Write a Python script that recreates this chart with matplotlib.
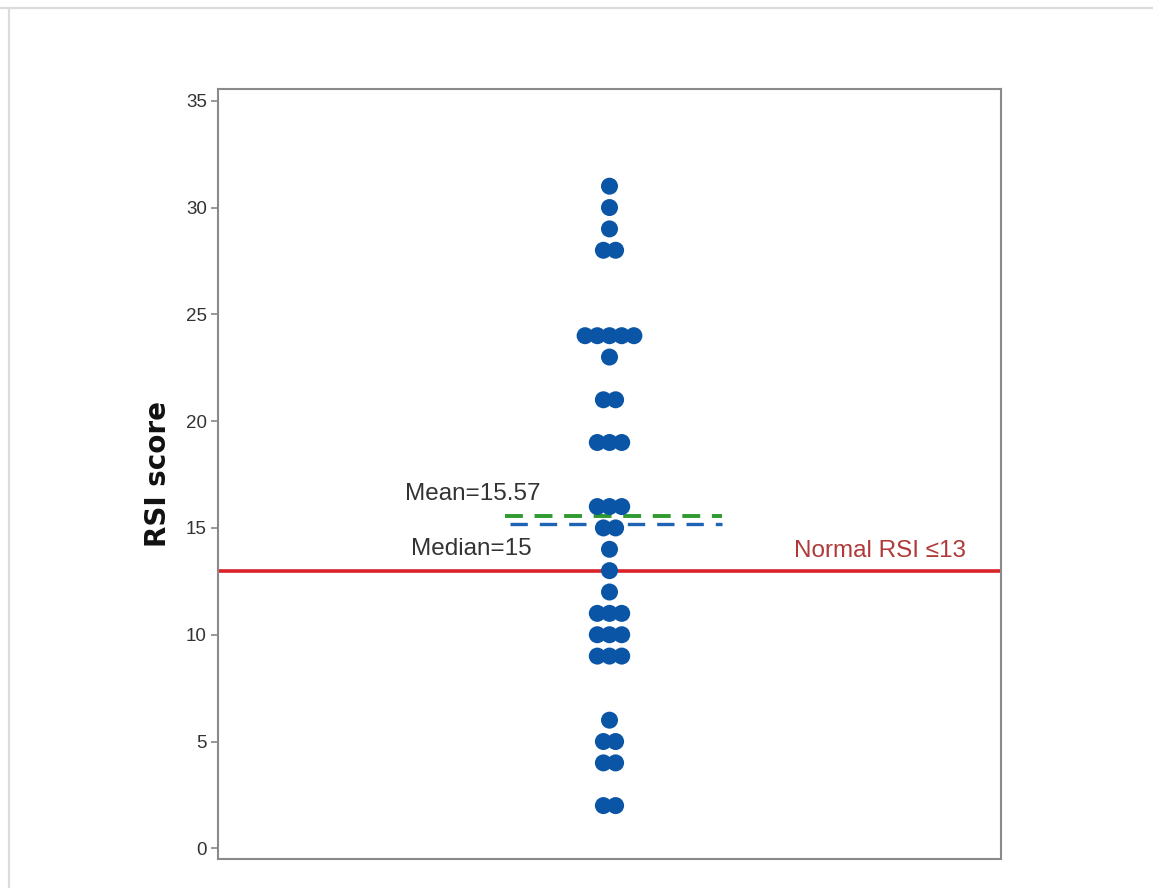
import numpy as np
import matplotlib
matplotlib.use('Agg')
import matplotlib.pyplot as plt
from matplotlib.lines import Line2D

# RSI score and how many patients had it
scores = [31, 30, 29, 28, 24, 23, 21, 19, 16, 15, 14, 13, 12, 11, 10, 9, 6, 5, 4, 2]
counts = [1, 1, 1, 2, 5, 1, 2, 3, 3, 2, 1, 1, 1, 3, 3, 3, 1, 2, 2, 2]
normal_cutoff = 13
y_ticks = [0, 5, 10, 15, 20, 25, 30, 35]

values = np.repeat(scores, counts)
mean_val = values.mean()
median_val = np.median(values)

FONT = 'Liberation Sans'

W, H = 1153, 888
fig = plt.figure(figsize=(W / 100, H / 100), dpi=100)
ax = fig.add_axes([218 / W, 1 - 859 / H, (1001 - 218) / W, (859 - 89) / H])

# light frame on the top and left of the canvas
fig.add_artist(Line2D([0, 1], [1 - 8.5 / H] * 2, color='#dcdcdc', lw=1.6,
                      transform=fig.transFigure))
fig.add_artist(Line2D([8.5 / W] * 2, [0, 1 - 8.5 / H], color='#dcdcdc', lw=1.6,
                      transform=fig.transFigure))

ax.set_xlim(-1, 1)
ax.set_ylim(-0.5, 35.55)

# spread tied scores sideways so every dot shows
step = 2 * 12.2 / (1001 - 218)
xs, ys = [], []
for s, n in zip(scores, counts):
    for i in range(n):
        xs.append((i - (n - 1) / 2) * step)
        ys.append(s)

ax.axhline(normal_cutoff, color='#d8232a', lw=2.6, zorder=2)
ax.plot([-0.267, 0.287], [mean_val, mean_val], color='#2f9a2f', lw=2.8,
        linestyle=(0, (4.6, 3.0)), zorder=3)
ax.plot([-0.254, 0.287], [median_val + 0.18, median_val + 0.18], color='#1f63b5', lw=2.4,
        linestyle=(0, (5.2, 3.6)), zorder=3)
ax.scatter(xs, ys, s=150, color='#0b55a6', edgecolors='none', zorder=4)

ax.text(-0.35, mean_val + 0.5, f'Mean={mean_val:.2f}', ha='center', va='bottom',
        fontsize=17.5, family=FONT, color='#333333')
ax.text(-0.354, median_val - 0.45, f'Median={median_val:.0f}', ha='center', va='top',
        fontsize=17.5, family=FONT, color='#333333')
ax.text(0.69, normal_cutoff + 0.4, 'Normal RSI \u2264' + str(normal_cutoff), ha='center',
        va='bottom', fontsize=17.5, family=FONT, color='#b03a3a')

ax.set_yticks(y_ticks)
ax.set_xticks([])
ax.tick_params(axis='y', length=5, width=1.2, color='#888888', pad=3,
               labelsize=13.5, labelcolor='#333333')
for lab in ax.get_yticklabels():
    lab.set_family(FONT)
for sp in ax.spines.values():
    sp.set_color('#8a8a8a')
    sp.set_linewidth(1.5)

fig.text(158 / W, 1 - 474 / H, 'RSI score', rotation=90, ha='center', va='center',
         fontsize=20, fontweight='bold', color='#111111')

fig.savefig('out.png', dpi=100, facecolor='white')
